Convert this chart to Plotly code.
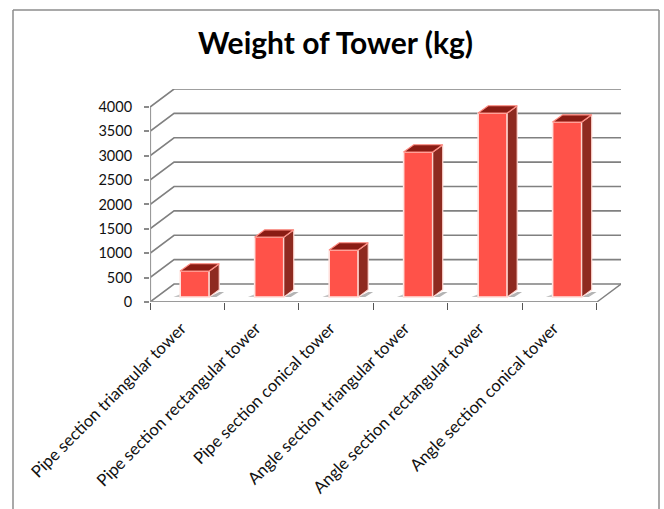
import plotly.graph_objects as go

categories = [
    "Pipe section triangular tower",
    "Pipe section rectangular tower",
    "Pipe section conical tower",
    "Angle section triangular tower",
    "Angle section rectangular tower",
    "Angle section conical tower",
]
weights = [535, 1230, 965, 2975, 3775, 3590]
y_ticks = [0, 500, 1000, 1500, 2000, 2500, 3000, 3500, 4000]

# Oblique projection: depth is expressed as an offset in axis units.
WALL_DX, WALL_DY = 0.323, 369      # floor depth
FRONT_DX, FRONT_DY = 0.10, 100     # bar front face relative to the front edge
BAR_DX, BAR_DY = 0.135, 150        # bar depth
BAR_W = 0.39

WIDTH, HEIGHT = 664, 509
L, R, T, B = 150, 43, 89, 207
n = len(categories)
plot_w, plot_h = WIDTH - L - R, HEIGHT - T - B


def line(xs, ys, color, width, xaxis="x", yaxis="y"):
    return go.Scatter(x=xs, y=ys, mode="lines", line=dict(color=color, width=width),
                      xaxis=xaxis, yaxis=yaxis, hoverinfo="skip", cliponaxis=False,
                      showlegend=False)


def poly(xs, ys, fill, edge, width=1.0, xaxis="x", yaxis="y"):
    return go.Scatter(x=xs + xs[:1], y=ys + ys[:1], mode="lines", fill="toself", fillcolor=fill,
                      line=dict(color=edge, width=width), xaxis=xaxis, yaxis=yaxis,
                      hoverinfo="skip", cliponaxis=False, showlegend=False)


fig = go.Figure()

# Back wall gridlines, running diagonally across the side wall to the front axis
for v in y_ticks:
    fig.add_trace(line([0, WALL_DX, n + WALL_DX], [v, v + WALL_DY, v + WALL_DY], "#808080", 1.6))

# Floor edges and the two front axes
fig.add_trace(line([n, n + WALL_DX], [0, WALL_DY], "#808080", 1.4))
fig.add_trace(line([0, n], [0, 0], "#9a9a9a", 2.2))
fig.add_trace(line([0, 0], [0, y_ticks[-1]], "#9a9a9a", 2.2))

# Floor shadows at each bar's foot
for i in range(n):
    x0 = i + 0.5 - BAR_W / 2 + FRONT_DX
    x1 = x0 + BAR_W
    fig.add_trace(poly([x1, x1 + 0.095, x1 + 0.2, x1 + 0.135],
                       [FRONT_DY, FRONT_DY, FRONT_DY + 103, FRONT_DY + 103],
                       "#b4b4b4", "rgba(0,0,0,0)", 0))
    fig.add_trace(poly([x0 - 0.09, x0, x0], [FRONT_DY, FRONT_DY, FRONT_DY + 60],
                       "#c4c4c4", "rgba(0,0,0,0)", 0))

# Bar front faces
fig.add_trace(go.Bar(
    x=[i + 0.5 + FRONT_DX for i in range(n)], y=weights, base=[FRONT_DY] * n, width=BAR_W,
    marker=dict(color="#ff5249", line=dict(color="#ffe4e0", width=1.6)),
    xaxis="x2", yaxis="y2", showlegend=False, hoverinfo="skip",
))

# Bar side and top faces
for i, v in enumerate(weights):
    x0 = i + 0.5 - BAR_W / 2 + FRONT_DX
    x1 = x0 + BAR_W
    y0, y1 = FRONT_DY, FRONT_DY + v
    fig.add_trace(poly([x1, x1 + BAR_DX, x1 + BAR_DX, x1],
                       [y0, y0 + BAR_DY, y1 + BAR_DY, y1],
                       "#8e2a20", "#ffd8d2", 1.2, "x2", "y2"))
    fig.add_trace(poly([x0, x1, x1 + BAR_DX, x0 + BAR_DX],
                       [y1, y1, y1 + BAR_DY, y1 + BAR_DY],
                       "#8a1c14", "#ff8a80", 1.2, "x2", "y2"))

x_range = [0, n + WALL_DX]
y_range = [0, y_ticks[-1] + WALL_DY]

fig.update_layout(
    width=WIDTH, height=HEIGHT, autosize=False,
    margin=dict(l=L, r=R, t=T, b=B, pad=0),
    paper_bgcolor="white", plot_bgcolor="rgba(0,0,0,0)",
    font=dict(family="Lato", color="black"),
    showlegend=False, barmode="overlay",
    title=dict(text="<b>Weight of Tower (kg)</b>", x=335.5 / WIDTH, xanchor="center",
               y=1 - 43 / HEIGHT, yanchor="middle",
               font=dict(family="Lato", size=30, color="black")),
    xaxis=dict(range=x_range, automargin=False, tickmode="array", tickvals=[i + 0.42 for i in range(n)],
               ticktext=categories, tickangle=-45, ticks="outside", ticklen=9, tickcolor="rgba(0,0,0,0)",
               showgrid=False, zeroline=False, showline=False,
               tickfont=dict(family="Lato", size=16.7, color="#111111")),
    yaxis=dict(range=y_range, automargin=False, tickmode="array", tickvals=y_ticks, ticks="outside", ticklen=5,
               tickwidth=1.5, ticklabelstandoff=9, tickcolor="#8a8a8a", showgrid=False, zeroline=False,
               showline=False, tickfont=dict(family="Lato", size=14.5, color="#111111")),
    xaxis2=dict(range=x_range, automargin=False, overlaying="x", anchor="y2", side="bottom", tickmode="array",
                tickvals=list(range(n + 1)), showticklabels=False, ticks="outside", ticklen=7,
                tickwidth=1.2, tickcolor="#555555", showgrid=False, zeroline=False, showline=False),
    yaxis2=dict(range=y_range, automargin=False, overlaying="y", anchor="x2", showticklabels=False, ticks="",
                showgrid=False, zeroline=False, showline=False),
    shapes=[
        # Page frame around the chart, open at the bottom
        dict(type="line", xref="paper", yref="paper",
             x0=(x0 - L) / plot_w, x1=(x1 - L) / plot_w,
             y0=(HEIGHT - B - y0) / plot_h, y1=(HEIGHT - B - y1) / plot_h,
             line=dict(color="#8c8c8c", width=1.5))
        for x0, y0, x1, y1 in [(13, 10, 659, 10), (13, 10, 13, 509), (659, 10, 659, 509)]
    ],
)

fig.write_html("out.html")
